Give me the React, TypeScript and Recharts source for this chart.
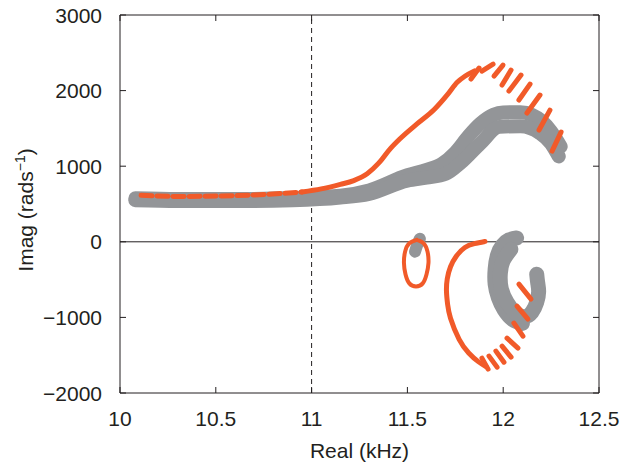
import React from "react";
import { ComposedChart, Line, XAxis, YAxis, ReferenceLine, Label } from "recharts";

const ORANGE = "#f15a29";
const GREY = "#939598";
const INK = "#231f20";
const FONT = "'Liberation Sans', Arial, sans-serif";
const FS = 21;
const TM = 18; // gap between axis and tick label
const TL = 6; // inward tick length

type Pt = [number, number];

const xTicks = [10, 10.5, 11, 11.5, 12, 12.5];
const yTicks = [-2000, -1000, 0, 1000, 2000, 3000];

// grey trace, upper branch (two overlapping tracks make the thick band)
const greyUpperA: Pt[] = [
  [10.08, 575], [10.3, 565], [10.6, 565], [10.9, 580], [11.15, 610], [11.3, 680],
  [11.5, 880], [11.6, 950], [11.68, 1030], [11.75, 1180], [11.82, 1400], [11.88, 1560],
  [11.95, 1680], [12.0, 1710], [12.09, 1715], [12.15, 1680], [12.2, 1600],
  [12.25, 1460], [12.3, 1260],
];
const greyUpperB: Pt[] = [
  [10.08, 550], [10.3, 540], [10.6, 540], [10.9, 550], [11.15, 585], [11.3, 635],
  [11.5, 810], [11.6, 850], [11.7, 900], [11.78, 1050], [11.88, 1300], [11.98, 1520],
  [12.09, 1530], [12.19, 1440], [12.25, 1300], [12.29, 1130],
];

// grey trace, lower hook
const greyHookA: Pt[] = [
  [12.07, 50], [12.03, 25], [11.995, -50], [11.97, -180], [11.958, -360], [11.958, -560],
  [11.975, -740], [12.005, -900], [12.05, -1030], [12.1, -1080],
];
const greyHookB: Pt[] = [
  [12.04, -100], [12.0, -250], [11.985, -420], [11.99, -620], [12.02, -800], [12.06, -930],
  [12.11, -990], [12.15, -930], [12.175, -800], [12.185, -660], [12.18, -540], [12.175, -430],
];
const greyBlob: Pt[] = [[11.565, 40], [11.55, -50], [11.54, -130]];

// orange trace
const orangeFlat: Pt[] = [
  [10.11, 615], [10.3, 600], [10.5, 605], [10.7, 620], [10.85, 640], [10.95, 660],
];
const orangeRise: Pt[] = [
  [10.95, 660], [11.05, 700], [11.15, 760], [11.22, 810], [11.29, 900], [11.35, 1040],
  [11.41, 1230], [11.46, 1360], [11.55, 1560], [11.64, 1750], [11.71, 1950],
  [11.76, 2110], [11.8, 2190], [11.85, 2260],
];
const orangeTopDashes: [Pt, Pt][] = [
  [[11.832, 2153], [11.874, 2298]],
  [[11.889, 2258], [11.947, 2351]],
  [[11.952, 2192], [11.999, 2338]],
  [[11.994, 2073], [12.041, 2272]],
  [[12.03, 1994], [12.093, 2205]],
  [[12.082, 1875], [12.14, 2086]],
  [[12.124, 1703], [12.192, 1941]],
  [[12.187, 1478], [12.244, 1742]],
  [[12.255, 1200], [12.302, 1451]],
];
const orangeLoop: Pt[] = [
  [11.55, 25], [11.585, -20], [11.605, -130], [11.61, -280], [11.6, -430], [11.58, -550],
  [11.545, -590], [11.51, -550], [11.49, -430], [11.482, -280], [11.488, -130],
  [11.51, -20], [11.55, 25],
];
const orangeArc: Pt[] = [
  [11.905, 5], [11.85, -25], [11.8, -75], [11.755, -190], [11.725, -330], [11.708, -490],
  [11.704, -660], [11.71, -830], [11.725, -1010], [11.77, -1290], [11.82, -1470],
  [11.87, -1585], [11.91, -1650],
];
const orangeLowDashes: [Pt, Pt][] = [
  [[11.889, -1539], [11.921, -1684]],
  [[11.926, -1512], [11.968, -1658]],
  [[11.962, -1446], [12.004, -1592]],
  [[11.994, -1380], [12.041, -1525]],
  [[12.02, -1274], [12.077, -1406]],
  [[12.056, -1076], [12.103, -1248]],
  [[12.072, -851], [12.129, -1023]],
  [[12.082, -560], [12.145, -758]],
];

const rows = (pts: Pt[]) => pts.map(([x, y]) => ({ x, y }));
const fmt = (v: number) => String(v).replace("-", "\u2212");

const BottomTick = (p: any) => (
  <g>
    <line x1={p.x} x2={p.x} y1={p.y - TM} y2={p.y - TM - TL} stroke={INK} />
    <text x={p.x} y={p.y} dy="0.71em" textAnchor="middle" fill={INK} fontSize={FS} fontFamily={FONT}>
      {fmt(p.payload.value)}
    </text>
  </g>
);
const LeftTick = (p: any) => (
  <g>
    <line x1={p.x + TM} x2={p.x + TM + TL} y1={p.y} y2={p.y} stroke={INK} />
    <text x={p.x} y={p.y} dy="0.36em" textAnchor="end" fill={INK} fontSize={FS} fontFamily={FONT}>
      {fmt(p.payload.value)}
    </text>
  </g>
);
const TopTick = (p: any) => <line x1={p.x} x2={p.x} y1={p.y} y2={p.y + TL} stroke={INK} />;
const RightTick = (p: any) => <line x1={p.x} x2={p.x - TL} y1={p.y} y2={p.y} stroke={INK} />;

const XLabel = (p: any) => {
  const vb = p.viewBox;
  return (
    <text x={vb.x + vb.width / 2} y={vb.y + 65} textAnchor="middle" fill={INK} fontSize={FS} fontFamily={FONT}>
      Real (kHz)
    </text>
  );
};
const YLabel = (p: any) => {
  const vb = p.viewBox;
  const bx = vb.x - 27;
  const cy = vb.y + vb.height / 2 + 6;
  return (
    <text x={bx} y={cy} transform={`rotate(-90, ${bx}, ${cy})`} textAnchor="middle" fill={INK} fontSize={FS} fontFamily={FONT}>
      <tspan>Imag (rads</tspan>
      <tspan dy={-8} fontSize={14}>{"\u22121"}</tspan>
      <tspan dy={8}>)</tspan>
    </text>
  );
};

const seg = (key: string, pts: Pt[], color: string, width: number, type: any = "linear", dash?: string) => (
  <Line
    key={key}
    data={rows(pts)}
    dataKey="y"
    type={type}
    stroke={color}
    strokeWidth={width}
    strokeLinecap="round"
    strokeLinejoin="round"
    strokeDasharray={dash}
    dot={false}
    activeDot={false}
    legendType="none"
    isAnimationActive={false}
  />
);

export default function App() {
  return (
    <div>
      <style>{"body{margin:0;overflow:hidden}"}</style>
      <ComposedChart width={622} height={466} margin={{ top: 10, right: 18, bottom: 33, left: 60 }}>
        <XAxis
          dataKey="x"
          type="number"
          domain={[10, 12.5]}
          ticks={xTicks}
          allowDataOverflow
          height={40}
          tickSize={0}
          tickMargin={TM}
          tickLine={false}
          tick={BottomTick}
          axisLine={{ stroke: INK }}
        >
          <Label content={XLabel} />
        </XAxis>
        <XAxis
          xAxisId="top"
          orientation="top"
          dataKey="x"
          type="number"
          domain={[10, 12.5]}
          ticks={xTicks}
          allowDataOverflow
          height={5}
          tickSize={0}
          tickMargin={0}
          tickLine={false}
          tick={TopTick}
          axisLine={{ stroke: INK }}
        />
        <YAxis
          type="number"
          domain={[-2000, 3000]}
          ticks={yTicks}
          allowDataOverflow
          width={60}
          tickSize={0}
          tickMargin={TM}
          tickLine={false}
          tick={LeftTick}
          axisLine={{ stroke: INK }}
        >
          <Label content={YLabel} />
        </YAxis>
        <YAxis
          yAxisId="right"
          orientation="right"
          type="number"
          domain={[-2000, 3000]}
          ticks={yTicks}
          allowDataOverflow
          width={5}
          tickSize={0}
          tickMargin={0}
          tickLine={false}
          tick={RightTick}
          axisLine={{ stroke: INK }}
        />
        <ReferenceLine y={0} stroke={INK} strokeWidth={1} />
        <ReferenceLine x={11} stroke={INK} strokeWidth={1} strokeDasharray="5 4" />

        {seg("gA", greyUpperA, GREY, 14, "monotone")}
        {seg("gB", greyUpperB, GREY, 14, "monotone")}
        {seg("hA", greyHookA, GREY, 15, "natural")}
        {seg("hB", greyHookB, GREY, 15, "natural")}
        {seg("gb", greyBlob, GREY, 12, "natural")}

        {seg("oF", orangeFlat, ORANGE, 5, "monotone", "11 5")}
        {seg("oR", orangeRise, ORANGE, 5, "monotone")}
        {orangeTopDashes.map((d, i) => seg(`ot${i}`, d, ORANGE, 5))}
        {seg("oL", orangeLoop, ORANGE, 4, "natural")}
        {seg("oA", orangeArc, ORANGE, 5, "natural")}
        {orangeLowDashes.map((d, i) => seg(`ol${i}`, d, ORANGE, 5))}
      </ComposedChart>
    </div>
  );
}
